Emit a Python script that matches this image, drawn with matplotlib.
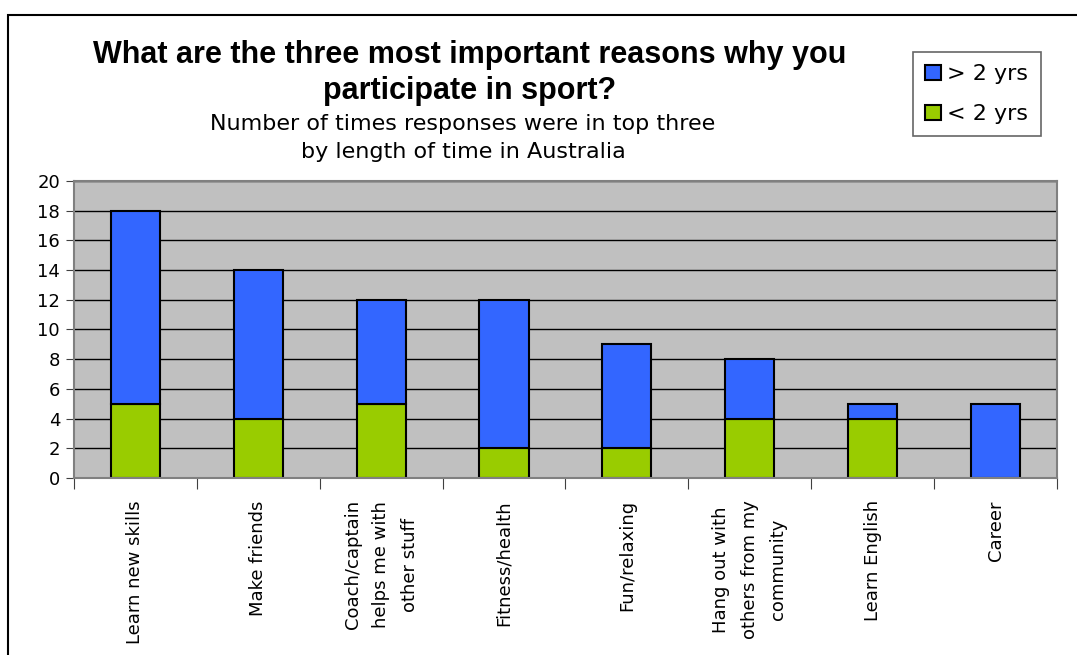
import numpy as np
import matplotlib.pyplot as plt
from matplotlib.patches import Rectangle

# data
categories = ["Learn new skills", "Make friends", "Coach/captain\nhelps me with\nother stuff",
              "Fitness/health", "Fun/relaxing", "Hang out with\nothers from my\ncommunity",
              "Learn English", "Career"]
under_2 = [5, 4, 5, 2, 2, 4, 4, 0]      # < 2 yrs
over_2 = [13, 10, 7, 10, 7, 4, 1, 5]    # > 2 yrs (stacked on top)

plt.rcParams['font.family'] = ['DejaVu Sans']

fig = plt.figure(figsize=(10.77, 6.55), dpi=100)
ax = fig.add_axes([0.0687, 0.2702, 0.9127, 0.4535])

# outer frame of the chart object
fig.patches.append(Rectangle((8 / 1077, -0.1), 1.2, (655 - 15) / 655 + 0.1,
                             transform=fig.transFigure, fill=False,
                             edgecolor='black', linewidth=1.5))

x = np.arange(len(categories))
ax.set_facecolor('#C0C0C0')
ax.set_axisbelow(True)
ax.yaxis.grid(True, color='black', linewidth=1)
ax.bar(x, under_2, width=0.4, color='#99CC00', edgecolor='black', linewidth=1.5, label='< 2 yrs')
ax.bar(x, over_2, width=0.4, bottom=under_2, color='#3366FF', edgecolor='black',
       linewidth=1.5, label='> 2 yrs')

ax.set_xlim(-0.5, len(categories) - 0.5)
ax.set_ylim(0, 20)
ax.set_yticks(range(0, 21, 2))
ax.tick_params(axis='y', labelsize=13, length=6, color='#404040', pad=4)

# ticks between categories, labels at centres
ax.set_xticks(np.arange(-0.5, len(categories), 1.0))
ax.set_xticklabels([])
ax.set_xticks(x, minor=True)
ax.set_xticklabels(categories, minor=True, rotation=90, fontsize=13,
                   ha='center', va='top', multialignment='center', linespacing=1.75)
ax.tick_params(axis='x', which='major', length=8, color='#404040')
ax.tick_params(axis='x', which='minor', length=0, pad=16)

for s in ax.spines.values():
    s.set_color('#808080')
    s.set_linewidth(1.5)

fig.text(0.436, 0.888, "What are the three most important reasons why you\nparticipate in sport?",
         ha='center', va='center', fontsize=22, fontweight='bold',
         family=['Liberation Sans', 'DejaVu Sans'], linespacing=1.25)
fig.text(0.43, 0.789, "Number of times responses were in top three\nby length of time in Australia",
         ha='center', va='center', fontsize=16, linespacing=1.5)

handles, labels = ax.get_legend_handles_labels()
leg = fig.legend(handles[::-1], labels[::-1], loc='upper left',
                 bbox_to_anchor=(913 / 1077, 1 - 52 / 655), fontsize=16,
                 frameon=True, fancybox=False, edgecolor='#404040',
                 handlelength=0.7, handleheight=0.7, handletextpad=0.3,
                 labelspacing=0.9, borderpad=0.55, borderaxespad=0)
leg.get_frame().set_linewidth(1.2)

fig.savefig("out.png", dpi=100)
